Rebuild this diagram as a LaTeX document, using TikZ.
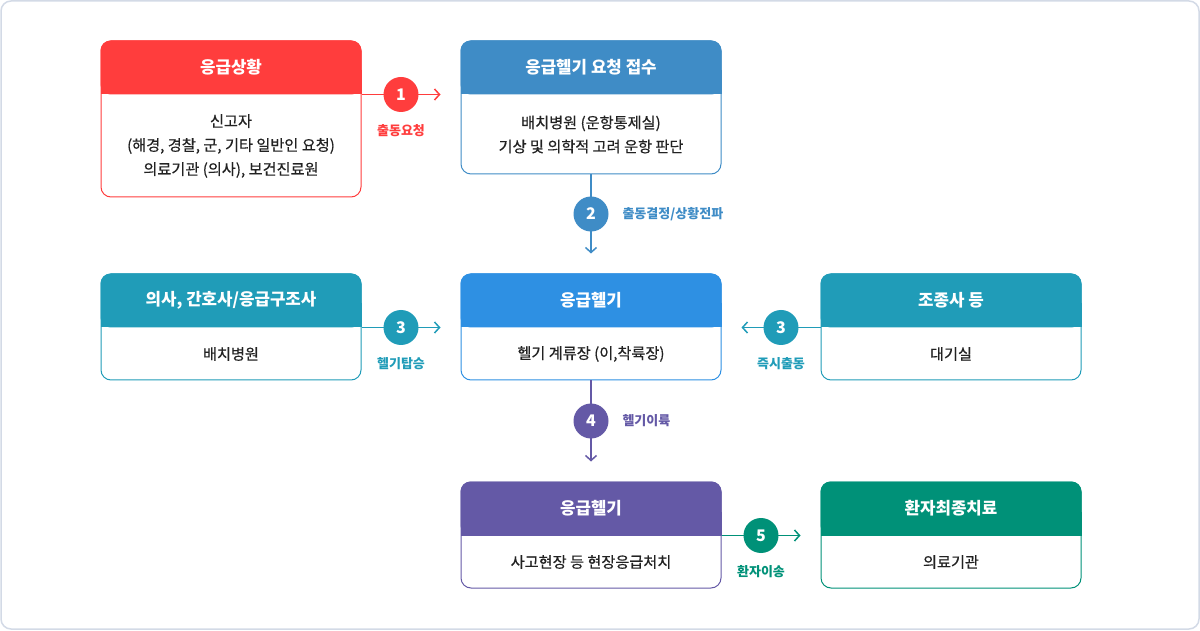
\documentclass[tikz,border=0pt]{standalone}
\usepackage{fontspec}
\setmainfont{Noto Sans CJK KR}
\newfontfamily\bodyfont[FakeBold=0.5]{Noto Sans CJK KR}
\usepackage{tikz}
\usetikzlibrary{positioning, arrows.meta, calc}

\definecolor{sitred}{HTML}{FF3D3D}
\definecolor{reqblue}{HTML}{3F8CC6}
\definecolor{crewteal}{HTML}{209CB8}
\definecolor{heliblue}{HTML}{2E90E3}
\definecolor{scenepurple}{HTML}{6459A6}
\definecolor{caregreen}{HTML}{009178}
\definecolor{textdark}{HTML}{222222}
\definecolor{bordergray}{HTML}{D3DAE6}

\begin{document}
\begin{tikzpicture}[x=1pt, y=1pt,
            frame/.style={draw=#1, fill=white, rounded corners=10pt, line width=1pt, minimum width=260pt, inner sep=0pt},
            headtext/.style={text=white, font=\fontsize{16.8}{18}\selectfont\bfseries},
            bodytext/.style={text=textdark, font=\bodyfont\fontsize{15.2}{24}\selectfont, align=center},
            link/.style={line width=1.5pt, draw=#1, -{Straight Barb[length=5pt, width=11pt]}},
            numdot/.style={circle, fill=#1, minimum size=35pt, inner sep=0pt, text=white, font=\fontsize{16}{18}\selectfont\bfseries},
            steplabel/.style={text=#1, font=\fontsize{13}{16}\selectfont\bfseries}
        ]

        \useasboundingbox (0,0) rectangle (1200,630);
        \draw[bordergray, line width=1.5pt, rounded corners=10pt] (1,1) rectangle (1199,629);

        % Kaesten
        \node[frame=sitred, minimum height=156pt] (sit) at (231,511) {};
        \node[frame=reqblue, minimum height=133pt] (req) at (591,522.5) {};
        \node[frame=crewteal, minimum height=106pt] (crew) at (231,303) {};
        \node[frame=heliblue, minimum height=106pt] (heli) at (591,303) {};
        \node[frame=crewteal, minimum height=106pt] (pilot) at (951,303) {};
        \node[frame=scenepurple, minimum height=106pt] (scene) at (591,95) {};
        \node[frame=caregreen, minimum height=106pt] (care) at (951,95) {};

        % Kopfzeilen
        \foreach \b/\c in {sit/sitred, req/reqblue, crew/crewteal, heli/heliblue, pilot/crewteal, scene/scenepurple, care/caregreen} {
            \fill[\c, rounded corners=10pt] (\b.north west) rectangle ([yshift=-54pt]\b.north east);
            \fill[\c] ([yshift=-30pt]\b.north west) rectangle ([yshift=-54pt]\b.north east);
        }

        % Texte
        \node[headtext] (sitt) at ([yshift=-27pt]sit.north) {응급상황};
        \node[bodytext] (sitb) at ($([yshift=-54pt]sit.north)!0.5!(sit.south)$) {신고자\\(해경, 경찰, 군, 기타 일반인 요청)\\의료기관 (의사), 보건진료원};
        \node[headtext] (reqt) at ([yshift=-27pt]req.north) {응급헬기 요청 접수};
        \node[bodytext] (reqb) at ($([yshift=-54pt]req.north)!0.5!(req.south)$) {배치병원 (운항통제실)\\기상 및 의학적 고려 운항 판단};
        \node[headtext] (crewt) at ([yshift=-27pt]crew.north) {의사, 간호사/응급구조사};
        \node[bodytext] (crewb) at ($([yshift=-54pt]crew.north)!0.5!(crew.south)$) {배치병원};
        \node[headtext] (helit) at ([yshift=-27pt]heli.north) {응급헬기};
        \node[bodytext] (helib) at ($([yshift=-54pt]heli.north)!0.5!(heli.south)$) {헬기 계류장 (이,착륙장)};
        \node[headtext] (pilott) at ([yshift=-27pt]pilot.north) {조종사 등};
        \node[bodytext] (pilotb) at ($([yshift=-54pt]pilot.north)!0.5!(pilot.south)$) {대기실};
        \node[headtext] (scenet) at ([yshift=-27pt]scene.north) {응급헬기};
        \node[bodytext] (sceneb) at ($([yshift=-54pt]scene.north)!0.5!(scene.south)$) {사고현장 등 현장응급처치};
        \node[headtext] (caret) at ([yshift=-27pt]care.north) {환자최종치료};
        \node[bodytext] (careb) at ($([yshift=-54pt]care.north)!0.5!(care.south)$) {의료기관};

        % Verbindungen
        \draw[link=sitred] ([yshift=-54pt]sit.north east) -- ([yshift=-54pt, xshift=-20pt]req.north west) node[numdot=sitred, midway] (n1) {1};
        \node[steplabel=sitred] (l1) at ([yshift=-36pt]n1.center) {출동요청};

        \draw[link=reqblue] (req.south) -- ([yshift=20pt]heli.north) node[numdot=reqblue, midway] (n2) {2};
        \node[steplabel=reqblue, anchor=west] (l2) at ([xshift=28pt]n2.center) {출동결정/상황전파};

        \draw[link=crewteal] ([yshift=-54pt]crew.north east) -- ([yshift=-54pt, xshift=-20pt]heli.north west) node[numdot=crewteal, midway] (n3a) {3};
        \node[steplabel=crewteal] (l3a) at ([yshift=-36pt]n3a.center) {헬기탑승};

        \draw[link=crewteal] ([yshift=-54pt]pilot.north west) -- ([yshift=-54pt, xshift=20pt]heli.north east) node[numdot=crewteal, midway] (n3b) {3};
        \node[steplabel=crewteal] (l3b) at ([yshift=-36pt]n3b.center) {즉시출동};

        \draw[link=scenepurple] (heli.south) -- ([yshift=20pt]scene.north) node[numdot=scenepurple, midway] (n4) {4};
        \node[steplabel=scenepurple, anchor=west] (l4) at ([xshift=28pt]n4.center) {헬기이륙};

        \draw[link=caregreen] ([yshift=-54pt]scene.north east) -- ([yshift=-54pt, xshift=-20pt]care.north west) node[numdot=caregreen, midway] (n5) {5};
        \node[steplabel=caregreen] (l5) at ([yshift=-36pt]n5.center) {환자이송};

    \end{tikzpicture}
\end{document}
